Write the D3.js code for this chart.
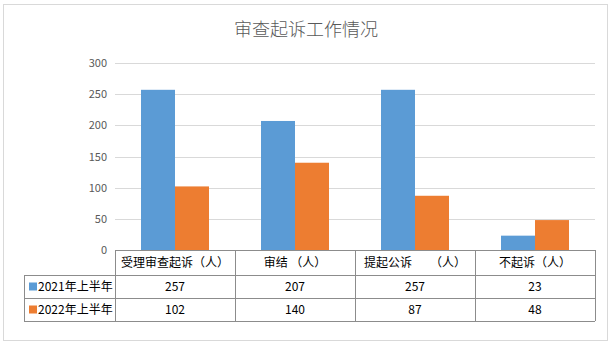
<!DOCTYPE html>
<html><head><meta charset="utf-8">
<script src="https://cdn.jsdelivr.net/npm/d3@7"></script>
<style>body{margin:0;background:#fff}svg{display:block}</style>
</head><body>
<svg id="c" width="613" height="346"></svg>
<script>
const title = "审查起诉工作情况";
const categories = ["受理审查起诉（人）", "审结 （人）", "提起公诉　　（人）", "不起诉（人）"];
const seriesNames = ["2021年上半年", "2022年上半年"];
const values2021 = [257, 207, 257, 23];
const values2022 = [102, 140, 87, 48];
const yTicks = [0, 50, 100, 150, 200, 250, 300];
const colors = ["#5B9BD5", "#ED7D31"];

(function () {
const series = [values2021, values2022];
const svg = d3.select("#c");
const font = "'Noto Sans CJK SC', 'Liberation Sans', sans-serif";

svg.append("rect").attr("x", 3.5).attr("y", 4.5).attr("width", 604).attr("height", 336)
  .attr("fill", "#fff").attr("stroke", "#D9D9D9");

svg.append("text").attr("x", 306).attr("y", 36).attr("text-anchor", "middle")
  .attr("font-family", font).attr("font-size", 18).attr("font-weight", 300).attr("fill", "#595959").text(title);

const pLeft = 115, pRight = 595, pTop = 63, pBottom = 250;
const x = d3.scaleBand().domain(categories).range([pLeft, pRight]);
const y = d3.scaleLinear().domain([0, 300]).range([pBottom, pTop]);
const inner = d3.scaleBand().domain([0, 1]).range([0, 68]);
const off = (x.bandwidth() - 68) / 2;

// gridlines
svg.append("g").selectAll("line").data(yTicks.filter(d => d > 0)).join("line")
  .attr("x1", pLeft).attr("x2", pRight).attr("y1", d => Math.round(y(d)) + 0.5).attr("y2", d => Math.round(y(d)) + 0.5)
  .attr("stroke", "#D9D9D9");

// y axis labels
const ya = svg.append("g").attr("transform", `translate(${pLeft - 8},0)`)
  .call(d3.axisLeft(y).tickValues(yTicks).tickSize(0).tickPadding(0));
ya.select(".domain").remove();
ya.selectAll("text").attr("font-family", font).attr("font-size", 11).attr("fill", "#595959");

// bars
series.forEach((vals, si) => {
  svg.append("g").selectAll("rect").data(vals).join("rect")
    .attr("x", (d, i) => x(categories[i]) + off + inner(si))
    .attr("width", inner.bandwidth())
    .attr("y", d => y(d)).attr("height", d => pBottom - y(d))
    .attr("fill", colors[si]);
});

// data table
const rowY = [250, 275, 298, 321];
const tableLeft = 24;
const tg = svg.append("g");
const stroke = "#8C8C8C";
tg.append("line").attr("x1", pLeft).attr("x2", pRight).attr("y1", rowY[0] + 0.5).attr("y2", rowY[0] + 0.5).attr("stroke", stroke);
[1, 2, 3].forEach(r => {
  tg.append("line").attr("x1", tableLeft).attr("x2", pRight).attr("y1", rowY[r] + 0.5).attr("y2", rowY[r] + 0.5).attr("stroke", stroke);
});
tg.append("line").attr("x1", tableLeft + 0.5).attr("x2", tableLeft + 0.5).attr("y1", rowY[1]).attr("y2", rowY[3]).attr("stroke", stroke);
const xs = categories.map(c => x(c)).concat([pRight]);
xs.forEach(xx => {
  tg.append("line").attr("x1", Math.round(xx) + 0.5).attr("x2", Math.round(xx) + 0.5).attr("y1", rowY[0]).attr("y2", rowY[3]).attr("stroke", stroke);
});
tg.selectAll("text.h").data(categories).join("text").attr("class", "h")
  .attr("x", d => x(d) + x.bandwidth() / 2).attr("y", (rowY[0] + rowY[1]) / 2 + 4.5)
  .attr("text-anchor", "middle").attr("font-family", font).attr("font-size", 12).attr("fill", "#000")
  .style("white-space", "pre").text(d => d);
series.forEach((vals, si) => {
  const cy = (rowY[si + 1] + rowY[si + 2]) / 2;
  tg.append("rect").attr("x", 29).attr("y", cy - 4).attr("width", 8).attr("height", 8).attr("fill", colors[si]);
  tg.append("text").attr("x", 38).attr("y", cy + 4.5).attr("font-family", font).attr("font-size", 12)
    .attr("fill", "#000").text(seriesNames[si]);
  tg.selectAll("text.v" + si).data(vals).join("text").attr("class", "v" + si)
    .attr("x", (d, i) => x(categories[i]) + x.bandwidth() / 2).attr("y", cy + 4.5)
    .attr("text-anchor", "middle").attr("font-family", font).attr("font-size", 12).attr("fill", "#000")
    .text(d => d);
});
})();
</script>
</body></html>
